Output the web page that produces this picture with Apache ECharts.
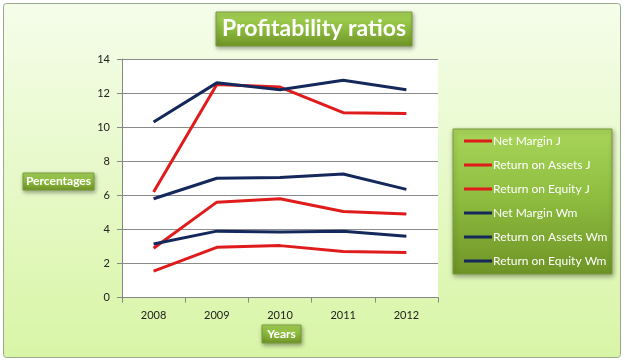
<!DOCTYPE html>
<html><head><meta charset="utf-8">
<script src="https://cdn.jsdelivr.net/npm/echarts@6/dist/echarts.min.js"></script>
<style>html,body{margin:0;padding:0;background:#fff}#c{width:625px;height:363px}</style>
</head><body><div id="c"></div>
<script>
const years = ['2008','2009','2010','2011','2012'];
const seriesNames = ['Net Margin J','Return on Assets J','Return on Equity J','Net Margin Wm','Return on Assets Wm','Return on Equity Wm'];
const netMarginJ = [2.9, 5.6, 5.8, 5.05, 4.9];
const roaJ = [1.55, 2.95, 3.05, 2.7, 2.65];
const roeJ = [6.2, 12.5, 12.35, 10.85, 10.8];
const netMarginWm = [3.15, 3.9, 3.85, 3.9, 3.6];
const roaWm = [5.8, 7.0, 7.05, 7.25, 6.35];
const roeWm = [10.3, 12.6, 12.2, 12.75, 12.2];
const seriesData = [netMarginJ, roaJ, roeJ, netMarginWm, roaWm, roeWm];
const yTicks = [0,2,4,6,8,10,12,14];
const titleText = 'Profitability ratios';
const yName = 'Percentages';
const xName = 'Years';

const RED = '#e01b1b', BLUE = '#14285c';
const colors = [RED, RED, RED, BLUE, BLUE, BLUE];
const greenGrad = {type:'linear',x:0,y:0,x2:0,y2:1,colorStops:[{offset:0,color:'#a9d65a'},{offset:0.5,color:'#8cbb3e'},{offset:1,color:'#6f9426'}]};
const font = 'Lato, "Open Sans", sans-serif';

function labelBox(x,y,w,h,text,size){
  return {type:'group', children:[
    {type:'rect', shape:{x:x,y:y,width:w,height:h}, style:{fill:greenGrad, stroke:'#7a9c3a', lineWidth:1, shadowBlur:4, shadowOffsetX:1, shadowOffsetY:2, shadowColor:'rgba(0,0,0,0.35)'}},
    {type:'text', style:{x:x+w/2, y:y+h/2, text:text, fill:'#fff', font:'bold '+size+'px '+font, align:'center', verticalAlign:'middle'}}
  ]};
}

const chart = echarts.init(document.getElementById('c'));
chart.setOption({
  animation:false,
  color: colors,
  graphic:[
    {type:'rect', z:-10, shape:{x:3.5,y:3.5,width:617,height:354,r:3}, style:{fill:{type:'linear',x:0,y:0,x2:0,y2:1,colorStops:[{offset:0,color:'#f5fdea'},{offset:1,color:'#d8f5a6'}]}, stroke:'#9aa890', lineWidth:1}},
    {type:'rect', z:-5, shape:{x:122,y:59,width:316,height:238.6}, style:{fill:'#ffffff'}},
    labelBox(216,12,196,34,titleText,23),
    labelBox(23,173,71,17,yName,12),
    labelBox(262,325,39,18,xName,12),
    {type:'rect', shape:{x:453,y:129,width:159,height:145}, style:{fill:greenGrad, stroke:'#7a9c3a', lineWidth:1, shadowBlur:5, shadowOffsetX:1, shadowOffsetY:2, shadowColor:'rgba(0,0,0,0.35)'}}
  ],
  legend:{
    left:459, top:129, orient:'vertical', itemGap:10, itemWidth:28, itemHeight:3, icon:'rect',
    textStyle:{color:'#fff', fontSize:12, fontFamily:font, padding:[0,0,0,-4], lineHeight:14},
    data: seriesNames, z:10
  },
  grid:{left:122, right:187, top:59, bottom:65.4, containLabel:false},
  xAxis:{
    type:'category', data:years, boundaryGap:true,
    axisLine:{lineStyle:{color:'#868686'}},
    axisTick:{show:true, length:5, lineStyle:{color:'#868686'}},
    axisLabel:{color:'#222', fontSize:11, fontFamily:font, margin:12}
  },
  yAxis:{
    type:'value', min:yTicks[0], max:yTicks[yTicks.length-1], interval:2,
    axisLine:{show:true, lineStyle:{color:'#868686'}},
    axisTick:{show:true, length:5, lineStyle:{color:'#868686'}},
    axisLabel:{color:'#222', fontSize:11, fontFamily:font, margin:12},
    splitLine:{lineStyle:{color:'#8a8a8a', width:1}}
  },
  series: seriesNames.map((n,i)=>({
    name:n, type:'line', data:seriesData[i], symbol:'none', smooth:false,
    lineStyle:{width:3, color:colors[i]}, itemStyle:{color:colors[i]}
  }))
});
</script></body></html>
